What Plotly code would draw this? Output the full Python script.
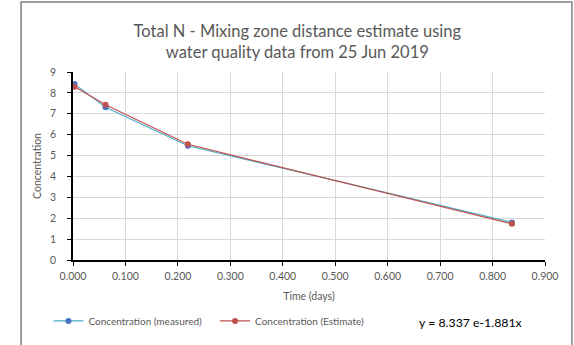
import plotly.graph_objects as go

time_measured = [0.003, 0.062, 0.219, 0.837]
conc_measured = [8.42, 7.31, 5.47, 1.80]
time_estimate = [0.003, 0.062, 0.219, 0.837]
conc_estimate = [8.29, 7.43, 5.54, 1.73]

x_ticks = [0.0, 0.1, 0.2, 0.3, 0.4, 0.5, 0.6, 0.7, 0.8, 0.9]
y_ticks = list(range(0, 10))

title_text = "Total N - Mixing zone distance estimate using<br>water quality data from 25 Jun 2019"
equation = "y = 8.337 e-1.881x"

FONT = "Lato, 'Open Sans', sans-serif"
GREY = "#595959"

fig = go.Figure()
fig.add_trace(go.Scatter(
    x=time_measured, y=conc_measured, mode="lines+markers",
    name="Concentration (measured)", legend="legend",
    line=dict(color="#4bacc6", width=1.2),
    marker=dict(color="#4472c4", size=6),
))
fig.add_trace(go.Scatter(
    x=time_estimate, y=conc_estimate, mode="lines+markers",
    name="Concentration (Estimate)", legend="legend2",
    line=dict(color="#c0504d", width=1.2),
    marker=dict(color="#c0504d", size=6),
))

leg_common = dict(orientation="h", yanchor="middle", xanchor="left",
                  font=dict(size=10, color=GREY), itemwidth=30,
                  bgcolor="rgba(0,0,0,0)")

fig.update_layout(
    width=574, height=345,
    margin=dict(l=73, r=29, t=72, b=85, autoexpand=False),
    paper_bgcolor="white", plot_bgcolor="white",
    font=dict(family=FONT, color=GREY, size=10),
    title=dict(text=title_text, x=0.518, xanchor="center", y=0.894, yanchor="top",
               automargin=False,
               font=dict(size=16.5, color=GREY, family=FONT)),
    showlegend=True,
    legend=dict(x=-0.052, y=-0.324, **leg_common),
    legend2=dict(x=0.301, y=-0.324, **leg_common),
    xaxis=dict(range=[0, 0.9], tickvals=x_ticks, tickformat=".3f",
               showgrid=True, gridcolor="#d9d9d9", gridwidth=1,
               showline=True, linecolor="black", linewidth=1.5,
               ticks="outside", ticklen=4, tickcolor="black",
               zeroline=False, mirror=False, automargin=False, ticklabelstandoff=2,
               title=dict(text="Time (days)", font=dict(size=10.5, color=GREY), standoff=11),
               tickfont=dict(size=10.5, color=GREY)),
    yaxis=dict(range=[0, 9], tickvals=y_ticks,
               showgrid=True, gridcolor="#d9d9d9", gridwidth=1,
               showline=True, linecolor="black", linewidth=1.5,
               ticks="outside", ticklen=4, tickcolor="black",
               zeroline=False, automargin=False, ticklabelstandoff=9,
               title=dict(text="Concentration", font=dict(size=10.5, color=GREY), standoff=6),
               tickfont=dict(size=10.5, color=GREY)),
)

# outer chart border
fig.add_shape(type="rect", xref="paper", yref="paper",
              x0=-0.110, x1=1.057, y0=-0.6, y1=1.372,
              line=dict(color="#7f7f7f", width=1.5), fillcolor="rgba(0,0,0,0)", layer="below")

fig.add_annotation(text=equation, xref="paper", yref="paper",
                   x=0.842, y=-0.331, xanchor="center", yanchor="middle",
                   showarrow=False, font=dict(size=12.3, color="black", family=FONT))

fig.write_html("out.html", config={"displayModeBar": False},
               post_script="document.body.style.margin='0';")
